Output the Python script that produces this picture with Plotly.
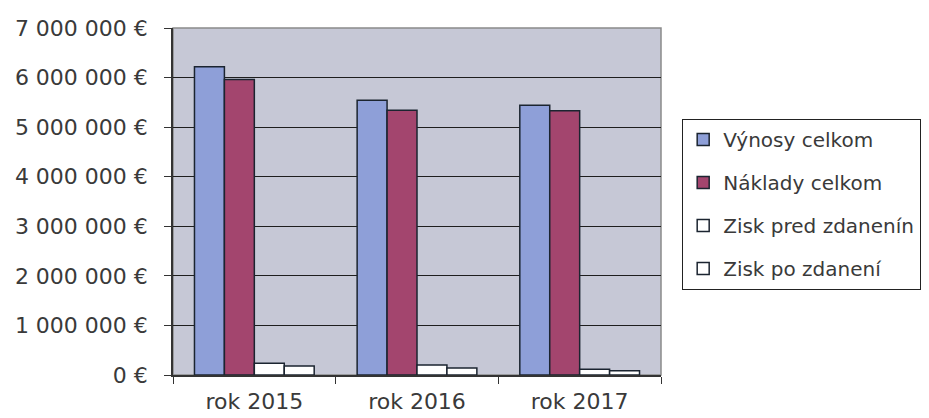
import plotly.graph_objects as go

categories = ["rok 2015", "rok 2016", "rok 2017"]
vynosy = [6220000, 5540000, 5440000]
naklady = [5960000, 5340000, 5330000]
zisk_pred = [236000, 200000, 115000]
zisk_po = [180000, 140000, 88000]

series_names = ["Výnosy celkom", "Náklady celkom", "Zisk pred zdanenín", "Zisk po zdanení"]
series_values = [vynosy, naklady, zisk_pred, zisk_po]
series_colors = ["#8E9FD8", "#A3456E", "#FFFFFF", "#FFFFFF"]

tick_vals = [0, 1000000, 2000000, 3000000, 4000000, 5000000, 6000000, 7000000]
tick_text = ["0 €", "1 000 000 €", "2 000 000 €", "3 000 000 €", "4 000 000 €",
             "5 000 000 €", "6 000 000 €", "7 000 000 €"]

fig = go.Figure()
for i, (name, vals, col) in enumerate(zip(series_names, series_values, series_colors)):
    fig.add_trace(go.Bar(
        x=categories, y=vals, name=name,
        marker=dict(color=col, line=dict(color="#1B2430", width=1.5)),
        legendgroup=f"g{i}",
    ))

font_color = "#3A3A3A"
fig.update_layout(
    width=921, height=410,
    margin=dict(l=165, r=268, t=20, b=43, autoexpand=False),
    paper_bgcolor="white",
    plot_bgcolor="#C6C8D6",
    barmode="group",
    bargap=0.264,
    bargroupgap=0,
    font=dict(family="DejaVu Sans, sans-serif", size=22, color=font_color),
    legend=dict(
        x=1.043, xanchor="left", y=0.738, yanchor="top",
        bordercolor="#222222", borderwidth=1.2,
        bgcolor="white",
        font=dict(size=20, color=font_color),
        tracegroupgap=14,
        itemwidth=30,
    ),
    xaxis=dict(
        showline=True, linecolor="#333333", linewidth=1.5,
        ticks="outside", tickson="boundaries", ticklen=7, tickcolor="#333333",
        showgrid=False, automargin=False, ticklabelstandoff=6,
    ),
    yaxis=dict(
        range=[0, 7000000],
        tickvals=tick_vals, ticktext=tick_text,
        showline=True, linecolor="#333333", linewidth=1.5,
        ticks="outside", ticklen=7, tickcolor="#333333",
        showgrid=True, gridcolor="#1E1E1E", gridwidth=1,
        zeroline=False, automargin=False, ticklabelstandoff=12,
    ),
    shapes=[dict(type="rect", xref="paper", yref="paper", x0=0, x1=1, y0=0, y1=1,
                 line=dict(color="#8A8A8A", width=1.5), layer="below")],
)

fig.write_html("out.html")
